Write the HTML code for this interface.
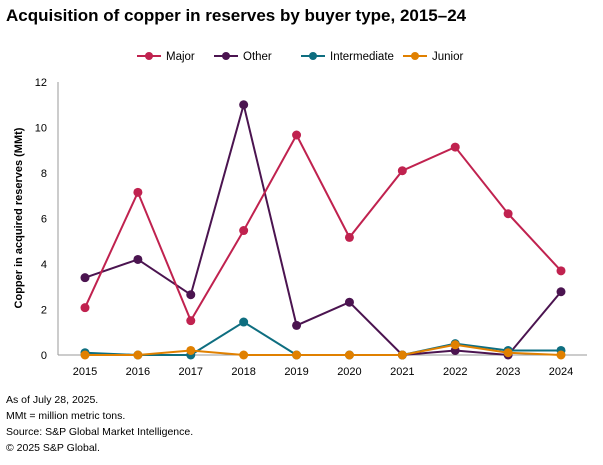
<!DOCTYPE html>
<html><head><meta charset="utf-8"><style>
body{margin:0;background:#fff;width:603px;height:465px;overflow:hidden;font-family:"Liberation Sans",sans-serif;}
#title{position:absolute;left:6px;top:6px;font-size:17px;font-weight:bold;color:#000;}
.note{position:absolute;left:6px;font-size:10.5px;color:#000;}
</style></head><body>
<div id="title">Acquisition of copper in reserves by buyer type, 2015–24</div>
<svg id="chart" width="603" height="465" style="position:absolute;left:0;top:0"></svg>
<div class="note" style="top:394px">As of July 28, 2025.</div>
<div class="note" style="top:410px">MMt = million metric tons.</div>
<div class="note" style="top:426px">Source: S&amp;P Global Market Intelligence.</div>
<div class="note" style="top:442px">© 2025 S&amp;P Global.</div>
<script>
const years=[2015,2016,2017,2018,2019,2020,2021,2022,2023,2024];
const major=[2.08,7.15,1.51,5.47,9.67,5.17,8.1,9.14,6.21,3.7];
const other=[3.4,4.2,2.65,11.0,1.3,2.32,0,0.2,0,2.78];
const intermediate=[0.1,0,0,1.45,0,0,0,0.5,0.2,0.2];
const junior=[0,0,0.2,0,0,0,0,0.45,0.1,0];
const yTicks=[0,2,4,6,8,10,12];
const series=[
 {name:"Major",vals:major,color:"#c0224f"},
 {name:"Other",vals:other,color:"#4b1450"},
 {name:"Intermediate",vals:intermediate,color:"#0e6e80"},
 {name:"Junior",vals:junior,color:"#e08000"}];
const drawOrder=[1,0,2,3];
const svg=document.getElementById('chart');
const NS="http://www.w3.org/2000/svg";
const x0=85,x1=561,y0=355,y1=82,ymax=12;
const xs=i=>x0+(x1-x0)*i/(years.length-1);
const ys=v=>y0-(y0-y1)*v/ymax;
function mk(t,a){const e=document.createElementNS(NS,t);for(const k in a)e.setAttribute(k,a[k]);svg.appendChild(e);return e;}
let ax=mk('line',{x1:58,y1:y1,x2:58,y2:y0,stroke:'#999','stroke-width':1});


let bx=mk('line',{x1:58,y1:y0,x2:587,y2:y0,stroke:'#999','stroke-width':1});


yTicks.forEach(v=>{const t=mk('text',{x:47,y:ys(v)+4,'text-anchor':'end','font-size':11,fill:'#000'});t.textContent=v;

});
years.forEach((y,i)=>{const t=mk('text',{x:xs(i),y:375,'text-anchor':'middle','font-size':11,fill:'#000'});t.textContent=y;

});
const yt=mk('text',{x:0,y:0,transform:'translate(22,218) rotate(-90)','text-anchor':'middle','font-size':11,'font-weight':'bold',fill:'#000'});
yt.textContent='Copper in acquired reserves (MMt)';


const lx=[137,214,301,403];
series.forEach((s,k)=>{
 const lg=mk('g',{});
 
 
 const l=document.createElementNS(NS,'line');l.setAttribute('x1',lx[k]);l.setAttribute('x2',lx[k]+24);l.setAttribute('y1',56);l.setAttribute('y2',56);l.setAttribute('stroke',s.color);l.setAttribute('stroke-width',2);lg.appendChild(l);
 const c=document.createElementNS(NS,'circle');c.setAttribute('cx',lx[k]+12);c.setAttribute('cy',56);c.setAttribute('r',4);c.setAttribute('fill',s.color);lg.appendChild(c);
 const t=document.createElementNS(NS,'text');t.setAttribute('x',lx[k]+29);t.setAttribute('y',60);t.setAttribute('font-size',11.5);t.textContent=s.name;lg.appendChild(t);
});
drawOrder.forEach(k=>{
 const s=series[k];
 const p=mk('polyline',{points:s.vals.map((v,i)=>xs(i)+','+ys(v)).join(' '),fill:'none',stroke:s.color,'stroke-width':2});
 
 
 s.vals.forEach((v,i)=>{const c=mk('circle',{cx:xs(i),cy:ys(v),r:4.5,fill:s.color});
 
 });
});
</script>
</body></html>
